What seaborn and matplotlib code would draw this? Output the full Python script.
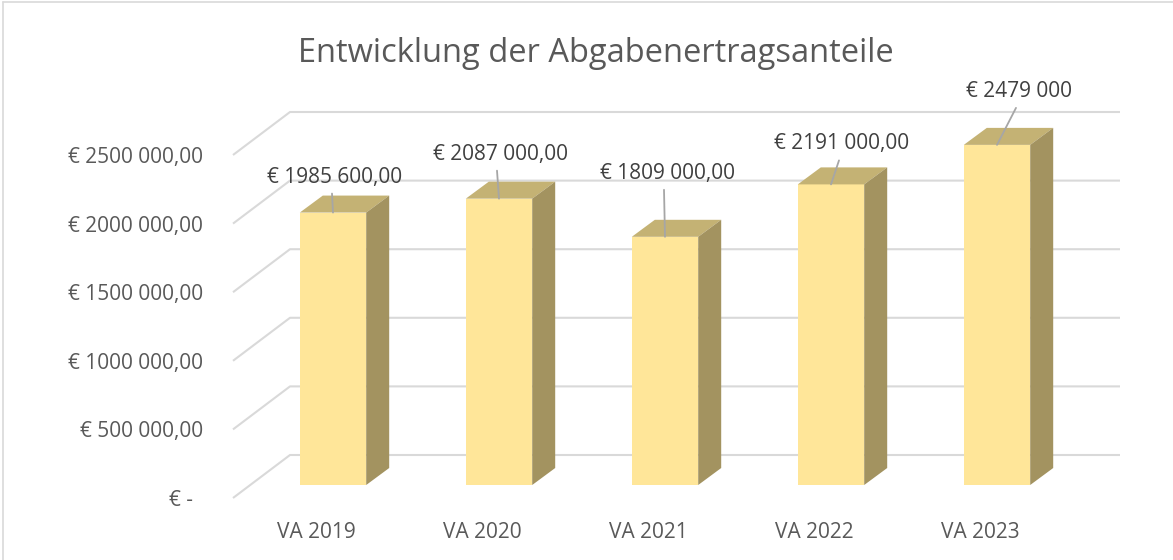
import numpy as np
import pandas as pd
import matplotlib
matplotlib.use('Agg')
import matplotlib.pyplot as plt
import seaborn as sns
from matplotlib.patches import Polygon
from matplotlib.lines import Line2D

# Daten
jahre = ['VA 2019', 'VA 2020', 'VA 2021', 'VA 2022', 'VA 2023']
werte = [1985600, 2087000, 1809000, 2191000, 2479000]
wert_labels = ['€ 1985 600,00', '€ 2087 000,00', '€ 1809 000,00',
               '€ 2191 000,00', '€ 2479 000']
y_ticks = [0, 500000, 1000000, 1500000, 2000000, 2500000]
y_tick_labels = ['€ -', '€ 500 000,00', '€ 1000 000,00', '€ 1500 000,00',
                 '€ 2000 000,00', '€ 2500 000,00']

# Lage der Datenbeschriftungen (Pixel relativ zur Balken-Oberkante)
label_dx = [2, 1, 2, 11, 22]
label_dy = [-38, -47, -66, -43, -56]

sns.set_style('white')
plt.rcParams['font.family'] = ['Open Sans', 'DejaVu Sans']

W, H = 1173, 560
fig = plt.figure(figsize=(W / 100, H / 100), dpi=100)
ax = fig.add_axes([0, 0, 1, 1])

# Umrechnung Pixel -> Datenkoordinaten
PX_X = 1 / 166.0            # eine Kategorie = 166 px
PX_Y = 2500000 / 343.0      # 2,5 Mio = 343 px
x0_px, y0_px = 333, 485     # Lage von Kategorie 0 / Wert 0
TXT = 2.5 * PX_Y            # Text etwas tiefer setzen (va=center mit Unterlaenge)

df = pd.DataFrame({'Jahr': jahre, 'Wert': werte})
sns.barplot(data=df, x='Jahr', y='Wert', color='#FFE699', width=0.4,
            saturation=1, linewidth=0, ax=ax, zorder=3)

ax.set_xlim(-x0_px * PX_X, (W - x0_px) * PX_X)
ax.set_ylim(-(H - y0_px) * PX_Y, y0_px * PX_Y)
ax.axis('off')

# 3D-Effekt: Tiefe der Balken
tx, ty = 23 * PX_X, 17 * PX_Y
for p in ax.patches[:len(werte)]:
    xl, xr = p.get_x(), p.get_x() + p.get_width()
    top = p.get_height()
    ax.add_patch(Polygon([(xl, top), (xr, top), (xr + tx, top + ty), (xl + tx, top + ty)],
                         closed=True, facecolor='#C4B274', edgecolor='none', zorder=3))
    ax.add_patch(Polygon([(xr, 0), (xr, top), (xr + tx, top + ty), (xr + tx, ty)],
                         closed=True, facecolor='#A39360', edgecolor='none', zorder=3))

# Gitternetz (Seitenwand + Rueckwand)
n = len(jahre)
x_front = -100 * PX_X
x_back = -43 * PX_X
x_end = (n - 1) + 123 * PX_X
for t, lab in zip(y_ticks, y_tick_labels):
    yf = t - 13 * PX_Y
    yb = t + 30 * PX_Y
    ax.plot([x_front, x_back, x_end], [yf, yb, yb], color='#D9D9D9', lw=1.5,
            zorder=1, solid_capstyle='butt')
    xr = -130 * PX_X if t != 0 else -140 * PX_X
    ax.text(xr, yf - TXT, lab, ha='right', va='center', fontsize=15, color='#595959')

# Kategorien
for i, j in enumerate(jahre):
    ax.text(i - 17 * PX_X, -45 * PX_Y - TXT, j, ha='center', va='center',
            fontsize=15, color='#595959')

# Datenbeschriftungen mit Fuehrungslinien
for i, (v, lab) in enumerate(zip(werte, wert_labels)):
    lx = i + label_dx[i] * PX_X
    ly = v - label_dy[i] * PX_Y
    ax.text(lx, ly - TXT, lab, ha='center', va='center', fontsize=15, color='#404040', zorder=5)
    ax.plot([lx - 3 * PX_X, i], [ly - 19 * PX_Y, v], color='#A6A6A6', lw=1.3, zorder=4)

fig.text(596 / W, 1 - 53 / H, 'Entwicklung der Abgabenertragsanteile',
         ha='center', va='center', fontsize=23.5, color='#595959')

# Rahmen des Diagrammbereichs
fig.add_artist(Line2D([3 / W, 3 / W], [0, 1 - 2 / H], color='#D9D9D9', lw=1.2))
fig.add_artist(Line2D([3 / W, 1], [1 - 2 / H, 1 - 2 / H], color='#D9D9D9', lw=1.2))

fig.savefig('out.png', dpi=100)
